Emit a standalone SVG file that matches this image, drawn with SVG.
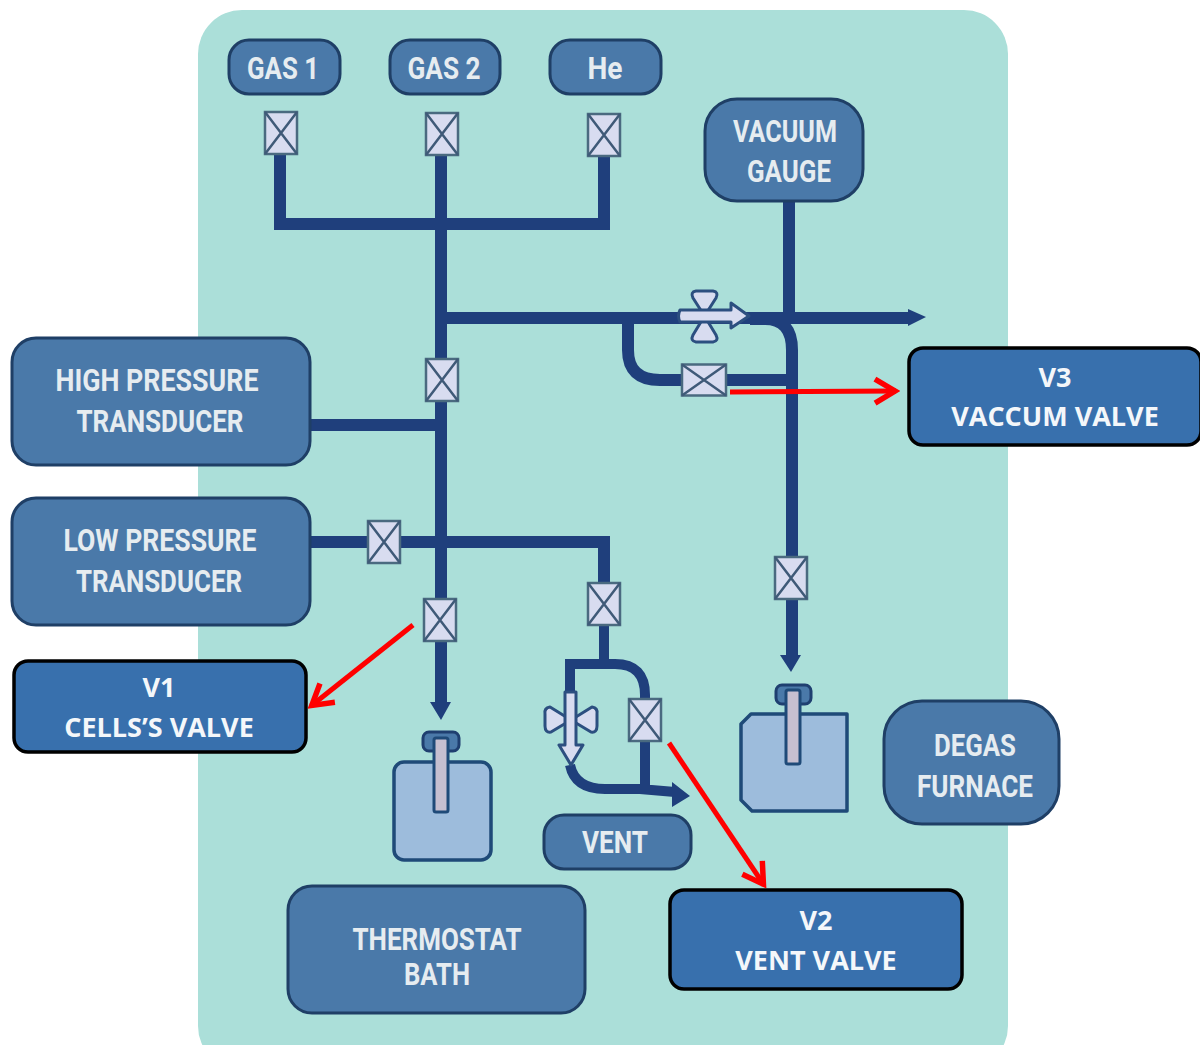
<svg xmlns="http://www.w3.org/2000/svg" width="1200" height="1045" viewBox="0 0 1200 1045">
<defs>
<marker id="red" markerUnits="userSpaceOnUse" markerWidth="28" markerHeight="32" refX="24" refY="15" orient="auto" viewBox="0 0 28 30"><path d="M3 3L23 15L3 27" fill="none" stroke="#f00" stroke-width="5.500"/></marker>
<g id="vh"><rect x="-16" y="-21" width="32" height="42" class="vb"/><path d="M-16-21L16 21M16-21L-16 21" class="vx"/></g>
<g id="vw"><rect x="-22" y="-15.500" width="44" height="31" class="vb"/><path d="M-22-15.500L22 15.500M22-15.500L-22 15.500" class="vx"/></g>
</defs>
<style>
.pipe{fill:none;stroke:#1f3f7c;stroke-width:12}
.head{fill:#1f3f7c}
.vb{fill:#d8dcf0;stroke:#4a6a80;stroke-width:2.500}
.vx{fill:none;stroke:#3f5a78;stroke-width:2.500}
.node{fill:#4a79a9;stroke:#1f3f66;stroke-width:3}
.nt{font-family:Roboto,"Liberation Sans",sans-serif;font-weight:700;font-size:31px;fill:#e6ecf0;text-anchor:middle}
.box{fill:#3870ad;stroke:#000;stroke-width:3.500}
.bt{font-family:"Open Sans","Liberation Sans",sans-serif;font-weight:700;font-size:27px;fill:#f4f7fa;text-anchor:middle}
.red{fill:none;stroke:#f00;stroke-width:5;marker-end:url(#red)}
.bfly{fill:#d8dcf0;stroke:#2c4f80;stroke-width:3;stroke-linejoin:round}
.vessel{fill:#9dbcdc;stroke:#1f4a78;stroke-width:3.500;stroke-linejoin:round}
.cap{fill:#4a79a9;stroke:#1f3f70;stroke-width:3}
.tube{fill:#c6bfd0;stroke:#1f4a78;stroke-width:3}
</style>
<rect id="panel" x="198" y="10" width="810" height="1060" rx="44" fill="#abdfd9"/>
<g id="connectors">
<path class="pipe" d="M280 150V224H604V150M441 150V704M441 318H912M789 195V320M750 319H765Q792 319 792 350V660M727 380H792M628 318V350Q628 380 660 380H685"/>
<path class="pipe" d="M310 425H441M310 542H604V600"/>
<path class="pipe" style="stroke-width:10" d="M604 620V665M570 695V664H615Q645 664 645 695V790M570 765Q575 789 605 789H640L675 792"/>
<path class="head" d="M908 309L926 317L908 326ZM430 702H451L441 720ZM780 655H801L791 672ZM672 782L690 796L672 807Z"/>
</g>
<g id="gas1"><rect class="node" x="229" y="40" width="111" height="54" rx="20"/><text class="nt" x="283" y="79" textLength="72" lengthAdjust="spacingAndGlyphs">GAS 1</text></g>
<g id="gas2"><rect class="node" x="390" y="40" width="110" height="54" rx="20"/><text class="nt" x="444" y="79" textLength="73" lengthAdjust="spacingAndGlyphs">GAS 2</text></g>
<g id="he"><rect class="node" x="550" y="40" width="111" height="54" rx="20"/><text class="nt" x="605" y="79" textLength="35" lengthAdjust="spacingAndGlyphs">He</text></g>
<g id="vacuum-gauge"><rect class="node" x="705" y="99" width="158" height="102" rx="32"/><text class="nt" x="785" y="142" textLength="104" lengthAdjust="spacingAndGlyphs">VACUUM</text><text class="nt" x="789" y="182" textLength="84" lengthAdjust="spacingAndGlyphs">GAUGE</text></g>
<g id="high-pressure"><rect class="node" x="12" y="338" width="298" height="127" rx="24"/><text class="nt" x="157" y="391" textLength="203" lengthAdjust="spacingAndGlyphs">HIGH PRESSURE</text><text class="nt" x="160" y="432" textLength="167" lengthAdjust="spacingAndGlyphs">TRANSDUCER</text></g>
<g id="low-pressure"><rect class="node" x="12" y="498" width="298" height="127" rx="24"/><text class="nt" x="160" y="551" textLength="193" lengthAdjust="spacingAndGlyphs">LOW PRESSURE</text><text class="nt" x="159" y="592" textLength="166" lengthAdjust="spacingAndGlyphs">TRANSDUCER</text></g>
<g id="thermostat"><rect class="node" x="288" y="886" width="297" height="127" rx="24"/><text class="nt" x="437" y="950" textLength="169" lengthAdjust="spacingAndGlyphs">THERMOSTAT</text><text class="nt" x="437" y="985" textLength="66" lengthAdjust="spacingAndGlyphs">BATH</text></g>
<g id="vent"><rect class="node" x="544" y="815" width="147" height="54" rx="20"/><text class="nt" x="615" y="853" textLength="66" lengthAdjust="spacingAndGlyphs">VENT</text></g>
<g id="degas"><rect class="node" x="884" y="701" width="175" height="123" rx="38"/><text class="nt" x="975" y="756" textLength="82" lengthAdjust="spacingAndGlyphs">DEGAS</text><text class="nt" x="975" y="797" textLength="116" lengthAdjust="spacingAndGlyphs">FURNACE</text></g>
<g id="valves">
<use href="#vh" x="281" y="133"/><use href="#vh" x="442" y="134"/><use href="#vh" x="604" y="135"/>
<use href="#vh" x="442" y="380"/><use href="#vh" x="384" y="542"/><use href="#vh" x="440" y="620"/>
<use href="#vh" x="604" y="604"/><use href="#vh" x="645" y="720"/><use href="#vh" x="791" y="578"/>
<use href="#vw" x="704" y="380"/>
</g>
<g id="butterfly-top"><path class="bfly" d="M696 291H713Q719 292 716 298L704.500 316L693 298Q690 292 696 291ZM696 342H713Q719 341 716 335L704.500 316L693 335Q690 341 696 342Z"/><path class="bfly" d="M680 310H731V303L749 316L731 328V322H680Q677 316 680 310Z"/></g>
<g id="butterfly-vent"><path class="bfly" d="M550 707Q544 708 545 714V726Q545 733 551 732L571 720ZM592 707Q598 708 597 714V726Q597 733 591 732L571 720Z"/><path class="bfly" d="M565 692H576V745H583L571 765L559 745H565Z"/></g>
<g id="cell-vessel"><rect class="vessel" x="394" y="762" width="97" height="98" rx="10"/><rect class="cap" x="423" y="732" width="36" height="19" rx="6"/><rect class="tube" x="434" y="738" width="14" height="74" rx="2"/></g>
<g id="furnace-vessel"><path class="vessel" d="M751 714H847V811H752L741 800V724Z"/><rect class="cap" x="776" y="685" width="35" height="19" rx="6"/><rect class="tube" x="786" y="690" width="14" height="74" rx="2"/></g>
<g id="v3"><rect class="box" x="909" y="348" width="292" height="97" rx="14"/><text class="bt" x="1055" y="387">V3</text><text class="bt" x="1055" y="426">VACCUM VALVE</text></g>
<g id="v1"><rect class="box" x="14" y="661" width="292" height="91" rx="14"/><text class="bt" x="159" y="697">V1</text><text class="bt" x="159" y="737">CELLS’S VALVE</text></g>
<g id="v2"><rect class="box" x="670" y="890" width="292" height="99" rx="14"/><text class="bt" x="816" y="930">V2</text><text class="bt" x="816" y="970">VENT VALVE</text></g>
<g id="callouts">
<path class="red" d="M730 392L896 391"/>
<path class="red" d="M413 625L311 706"/>
<path class="red" d="M669 743L764 885"/>
</g>
</svg>
